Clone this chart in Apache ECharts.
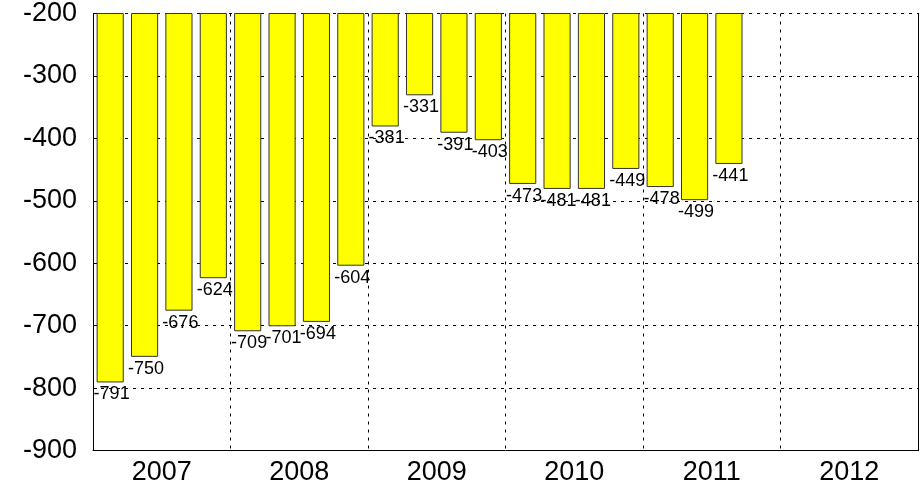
<!DOCTYPE html>
<html>
<head>
<meta charset="utf-8">
<script src="https://cdn.jsdelivr.net/npm/echarts@6/dist/echarts.min.js"></script>
<style>
  html, body { margin: 0; padding: 0; background: #fff; }
  #chart { width: 924px; height: 487px; }
</style>
</head>
<body>
<div id="chart"></div>
<script>
var years = ['2007', '2008', '2009', '2010', '2011', '2012'];
var quarters = [
    '2007Q1', '2007Q2', '2007Q3', '2007Q4',
    '2008Q1', '2008Q2', '2008Q3', '2008Q4',
    '2009Q1', '2009Q2', '2009Q3', '2009Q4',
    '2010Q1', '2010Q2', '2010Q3', '2010Q4',
    '2011Q1', '2011Q2', '2011Q3', '2011Q4',
    '2012Q1', '2012Q2', '2012Q3', '2012Q4'
];
var values = [
    -791, -750, -676, -624,
    -709, -701, -694, -604,
    -381, -331, -391, -403,
    -473, -481, -481, -449,
    -478, -499, -441, null,
    null, null, null, null
];
var yTicks = { min: -900, max: -200, step: 100 };

var myChart = echarts.init(document.getElementById('chart'));
var font = 'Liberation Sans, Arial, sans-serif';
var dashed = { color: '#000', width: 1, type: [3, 5] };

var option = {
    animation: false,
    grid: {
        left: 93,
        right: 6,
        top: 13,
        bottom: 36.5
    },
    xAxis: [
        {
            type: 'category',
            data: years,
            position: 'bottom',
            boundaryGap: true,
            axisLine: { show: true, lineStyle: { color: '#000', width: 1 } },
            axisTick: { show: false },
            axisLabel: {
                color: '#000',
                fontSize: 27,
                fontFamily: font,
                margin: 9
            },
            splitLine: { show: true, lineStyle: dashed }
        },
        {
            // quarters: carries the bars, drawn without labels
            type: 'category',
            data: quarters,
            position: 'top',
            axisLine: { show: false },
            axisTick: { show: false },
            axisLabel: { show: false },
            splitLine: { show: false }
        }
    ],
    yAxis: [
        {
            type: 'value',
            min: yTicks.min,
            max: yTicks.max,
            interval: yTicks.step,
            axisLine: { show: true, lineStyle: { color: '#000', width: 1 } },
            axisTick: { show: true, inside: true, length: 4, lineStyle: { color: '#000' } },
            axisLabel: {
                color: '#000',
                fontSize: 27,
                fontFamily: font,
                margin: 16
            },
            splitLine: { show: true, lineStyle: dashed }
        },
        {
            type: 'value',
            position: 'right',
            min: yTicks.min,
            max: yTicks.max,
            interval: yTicks.step,
            axisLine: { show: true, lineStyle: { color: '#000', width: 1 } },
            axisTick: { show: false },
            axisLabel: { show: false },
            splitLine: { show: false }
        }
    ],
    series: [
        {
            type: 'bar',
            xAxisIndex: 1,
            yAxisIndex: 0,
            data: values,
            barCategoryGap: '21%',
            clip: true,
            itemStyle: {
                color: '#ffff00',
                borderColor: '#333',
                borderWidth: 1
            },
            label: {
                show: true,
                position: ['0%', '100%'],
                align: 'left',
                verticalAlign: 'top',
                offset: [-3, 3],
                color: '#000',
                fontSize: 18,
                fontFamily: font,
                formatter: function (p) { return p.value; }
            }
        }
    ]
};
myChart.setOption(option);
</script>
</body>
</html>
